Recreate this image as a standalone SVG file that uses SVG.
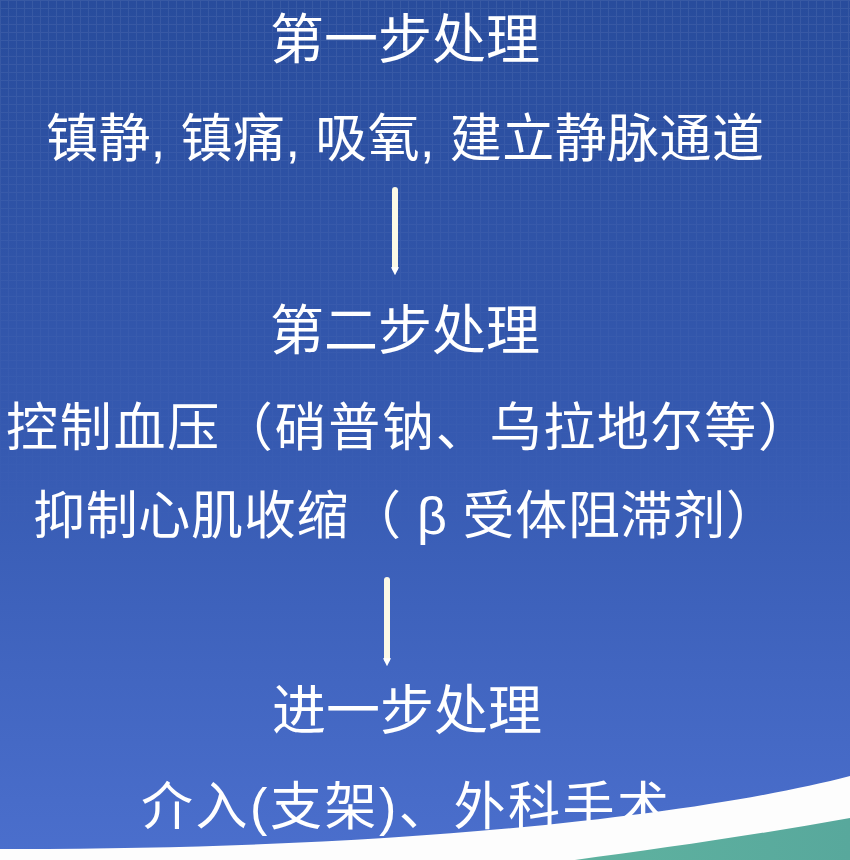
<svg xmlns="http://www.w3.org/2000/svg" width="850" height="860" viewBox="0 0 850 860">
  <defs>
    <linearGradient id="bg" x1="0" y1="0" x2="0" y2="1">
      <stop offset="0" stop-color="#284c9c"/>
      <stop offset="0.5" stop-color="#3559b0"/>
      <stop offset="1" stop-color="#4b6fcd"/>
    </linearGradient>
    <pattern id="grid" width="8" height="8" patternUnits="userSpaceOnUse">
      <path d="M0 0.5 H8 M0.5 0 V8" stroke="#ffffff" stroke-width="1" fill="none"/>
    </pattern>
    <linearGradient id="fade" x1="0" y1="0" x2="0" y2="1">
      <stop offset="0" stop-color="#fff" stop-opacity="1"/>
      <stop offset="0.65" stop-color="#fff" stop-opacity="0"/>
    </linearGradient>
    <mask id="gridMask" maskUnits="userSpaceOnUse" x="0" y="0" width="850" height="860">
      <rect width="850" height="860" fill="url(#fade)"/>
    </mask>
    <linearGradient id="teal" x1="0" y1="0" x2="1" y2="0">
      <stop offset="0" stop-color="#5fb3a0"/>
      <stop offset="1" stop-color="#58a89c"/>
    </linearGradient>
    <marker id="head" viewBox="0 0 10 10" refX="1" refY="5" markerWidth="8" markerHeight="11" markerUnits="userSpaceOnUse" orient="auto">
      <path d="M0 0 L10 5 L0 10 Z" fill="#ffffff"/>
    </marker>
    <style>
      .t { fill: #ffffff; font-family: "Liberation Sans", "Noto Sans CJK SC", sans-serif; }
      .title { font-size: 54px; }
      .body { font-size: 52px; }
      .conn { stroke: #fbf9e6; stroke-width: 6; stroke-linecap: round; fill: none; }
    </style>
  </defs>

  <rect width="850" height="860" fill="url(#bg)"/>
  <rect width="850" height="860" fill="url(#grid)" opacity="0.07" mask="url(#gridMask)"/>

  <g id="step1-title"><text class="t title" x="270" y="59">第一步处理</text></g>
  <g id="step1-body"><text class="t body" x="46" y="157" textLength="718" lengthAdjust="spacing">镇静, 镇痛, 吸氧, 建立静脉通道</text></g>
  <g id="step2-title"><text class="t title" x="270" y="350">第二步处理</text></g>
  <g id="step2-body1"><text class="t body" x="6" y="446" textLength="804" lengthAdjust="spacing">控制血压（硝普钠、乌拉地尔等）</text></g>
  <g id="step2-body2"><text class="t body" x="33" y="534" textLength="745" lengthAdjust="spacing">抑制心肌收缩（ β 受体阻滞剂）</text></g>
  <g id="step3-title"><text class="t title" x="272" y="730">进一步处理</text></g>
  <g id="step3-body"><text class="t body" x="141" y="825" textLength="528" lengthAdjust="spacing">介入(支架)、外科手术</text></g>

  <g id="connectors">
    <line class="conn" x1="395" y1="190" x2="395" y2="268" marker-end="url(#head)"/>
    <line class="conn" x1="387" y1="580" x2="387" y2="659" marker-end="url(#head)"/>
  </g>

  <path d="M0 849 C 400 850 700 815 850 776 L850 860 L0 860 Z" fill="#fdfdfd"/>
  <path d="M560 862 C 650 850 750 836 850 818 L850 860 Z" fill="url(#teal)"/>
</svg>
